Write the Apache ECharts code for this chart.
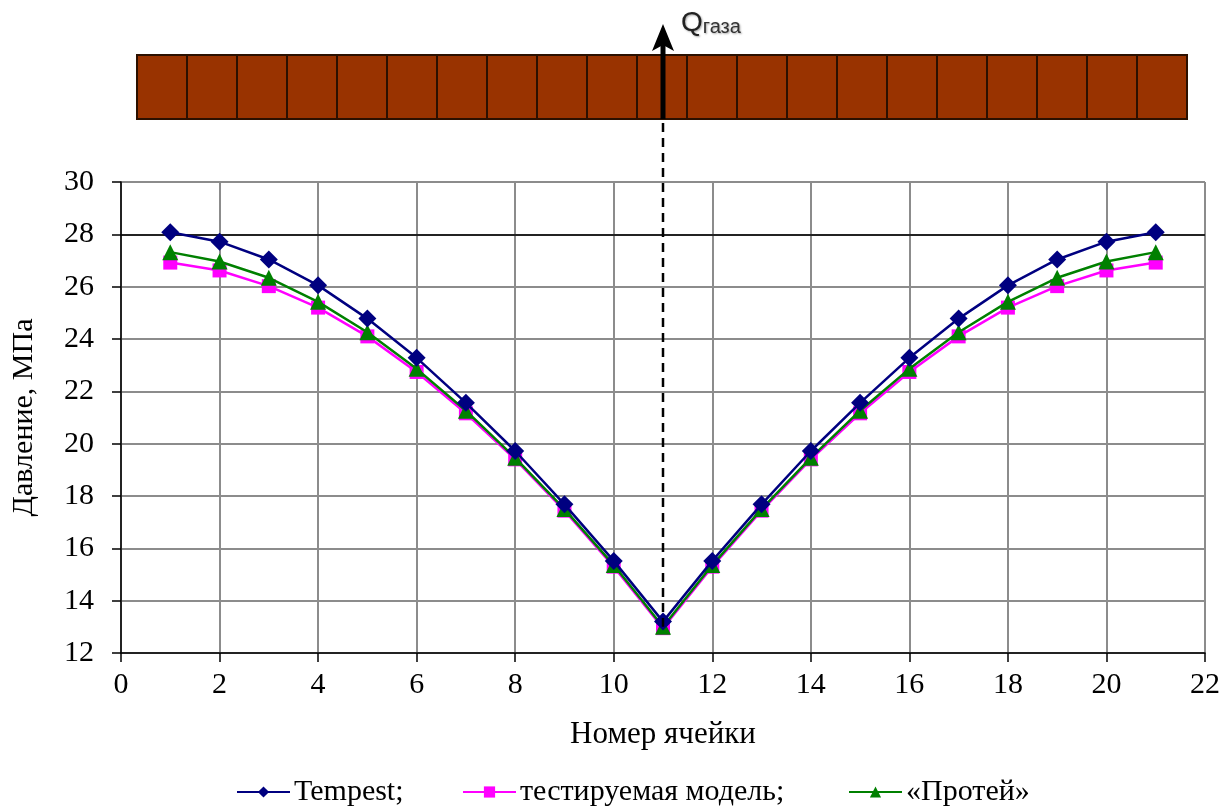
<!DOCTYPE html>
<html>
<head>
<meta charset="utf-8">
<script src="https://cdn.jsdelivr.net/npm/echarts@6/dist/echarts.min.js"></script>
<style>
  html, body { margin: 0; padding: 0; background: #fff; }
  #chart { width: 1224px; height: 807px; }
</style>
</head>
<body>
<div id="chart"></div>
<script>
// номера ячеек
var cells = [1, 2, 3, 4, 5, 6, 7, 8, 9, 10, 11, 12, 13, 14, 15, 16, 17, 18, 19, 20, 21];
// давление, МПа
var tempest = [28.08, 27.72, 27.04, 26.05, 24.78, 23.28, 21.56, 19.72, 17.68, 15.52, 13.2,
               15.52, 17.68, 19.72, 21.56, 23.28, 24.78, 26.05, 27.04, 27.72, 28.08];
var testModel = [26.92, 26.62, 26.02, 25.2, 24.1, 22.74, 21.16, 19.4, 17.44, 15.3, 12.95,
                 15.3, 17.44, 19.4, 21.16, 22.74, 24.1, 25.2, 26.02, 26.62, 26.92];
var protei = [27.32, 26.96, 26.34, 25.42, 24.26, 22.86, 21.26, 19.46, 17.5, 15.36, 13.0,
              15.36, 17.5, 19.46, 21.26, 22.86, 24.26, 25.42, 26.34, 26.96, 27.32];
var names = ['Tempest;', 'тестируемая модель;', '«Протей»'];

var serif = '"Liberation Serif", "Times New Roman", serif';
var chart = echarts.init(document.getElementById('chart'));

function pairs(vals) {
  var out = [];
  for (var i = 0; i < cells.length; i++) {
    out.push([cells[i], vals[i]]);
  }
  return out;
}

function legendAt(name, left) {
  return {
    data: [name],
    left: left,
    top: 772,
    itemWidth: 53,
    itemHeight: 14,
    itemGap: 0,
    textStyle: { fontFamily: serif, fontSize: 30, color: '#000', padding: [0, 0, 0, -1] }
  };
}

var option = {
  backgroundColor: '#fff',
  animation: false,
  legend: [legendAt(names[0], 231), legendAt(names[1], 457), legendAt(names[2], 843)],
  grid: { left: 121, right: 19, top: 182, bottom: 154 },
  xAxis: {
    type: 'value',
    min: 0, max: 22, interval: 2,
    name: 'Номер ячейки',
    nameLocation: 'middle',
    nameGap: 66,
    nameTextStyle: { fontFamily: serif, fontSize: 31, color: '#000' },
    axisLine: { show: true, onZero: false, lineStyle: { color: '#000', width: 1.5 } },
    axisTick: { show: true, length: 9, lineStyle: { color: '#000', width: 1.5 } },
    axisLabel: { fontFamily: serif, fontSize: 30, color: '#000', margin: 17 },
    splitLine: { show: true, lineStyle: { color: '#8c8c8c', width: 2 } }
  },
  yAxis: {
    type: 'value',
    min: 12, max: 30, interval: 2,
    name: 'Давление, МПа',
    nameLocation: 'middle',
    nameGap: 82,
    nameTextStyle: { fontFamily: serif, fontSize: 30, color: '#000' },
    axisLine: { show: true, lineStyle: { color: '#000', width: 1.5 } },
    axisTick: { show: true, length: 9, lineStyle: { color: '#000', width: 1.5 } },
    axisLabel: { fontFamily: serif, fontSize: 30, color: '#000', margin: 27 },
    splitLine: { show: true, lineStyle: { color: '#8c8c8c', width: 2 } }
  },
  series: [
    {
      name: names[0],
      type: 'line',
      data: pairs(tempest),
      symbol: 'diamond',
      symbolSize: 18,
      itemStyle: { color: '#000080' },
      lineStyle: { color: '#000080', width: 2.5 },
      z: 4,
      markLine: {
        silent: true,
        symbol: 'none',
        label: { show: false },
        lineStyle: { color: '#000', width: 1.5, type: 'solid' },
        data: [{ yAxis: 28 }],
        z: 1
      }
    },
    {
      name: names[1],
      type: 'line',
      data: pairs(testModel),
      symbol: 'rect',
      symbolSize: 14,
      itemStyle: { color: '#ff00ff' },
      lineStyle: { color: '#ff00ff', width: 2.5 },
      z: 2
    },
    {
      name: names[2],
      type: 'line',
      data: pairs(protei),
      symbol: 'triangle',
      symbolSize: 16,
      itemStyle: { color: '#008000' },
      lineStyle: { color: '#008000', width: 2.5 },
      z: 3
    }
  ]
};
chart.setOption(option);

// схема пласта с ячейками и стрелкой отбора газа
var cellCount = 21, cellW = 50, barLeft = 137, barTop = 55, barH = 64;
var deco = [];
for (var i = 0; i < cellCount; i++) {
  deco.push({
    type: 'rect',
    shape: { x: barLeft + i * cellW, y: barTop, width: cellW, height: barH },
    style: { fill: '#993300', stroke: '#2b1000', lineWidth: 2 },
    z: 10
  });
}
var well = chart.convertToPixel({ gridIndex: 0 }, [11, protei[10]]);
var wx = well[0];
deco.push({
  type: 'line',
  shape: { x1: wx, y1: barTop + barH + 4, x2: wx, y2: well[1] },
  style: { stroke: '#000', lineWidth: 2.5, lineDash: [9, 6] },
  z: 12
});
deco.push({
  type: 'line',
  shape: { x1: wx, y1: barTop + barH, x2: wx, y2: 44 },
  style: { stroke: '#000', lineWidth: 5 },
  z: 12
});
deco.push({
  type: 'polygon',
  shape: { points: [[wx, 24], [wx + 11, 51], [wx, 45], [wx - 11, 51]] },
  style: { fill: '#000' },
  z: 12
});
deco.push({
  type: 'text',
  left: wx + 18,
  top: 9,
  style: {
    text: '{q|Q}{s|газа}',
    rich: {
      q: { fontFamily: '"Liberation Sans", Arial, sans-serif', fontSize: 28, fill: '#222', verticalAlign: 'bottom' },
      s: { fontFamily: '"Liberation Sans", Arial, sans-serif', fontSize: 20, fill: '#333', padding: [14, 0, 0, 0] }
    },
    textShadowColor: 'rgba(0,0,0,0.35)',
    textShadowBlur: 2,
    textShadowOffsetX: 1,
    textShadowOffsetY: 1
  },
  z: 12
});
chart.setOption({ graphic: deco });
</script>
</body>
</html>
